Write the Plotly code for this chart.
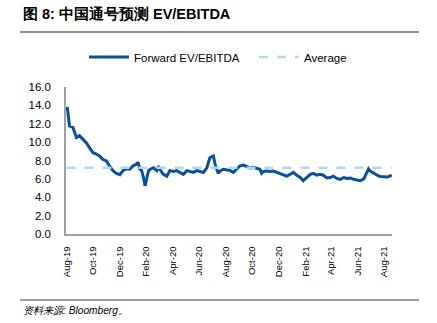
import plotly.graph_objects as go

dates = [
    "2019-08-01","2019-08-03","2019-08-08","2019-08-16","2019-08-24","2019-08-31","2019-09-08","2019-09-16",
    "2019-09-23","2019-10-01","2019-10-09","2019-10-16","2019-10-24","2019-11-01","2019-11-08","2019-11-16",
    "2019-11-24","2019-12-02","2019-12-09","2019-12-17","2019-12-25","2020-01-01","2020-01-09","2020-01-13",
    "2020-01-17","2020-01-21","2020-01-25","2020-01-29","2020-02-02","2020-02-06","2020-02-10","2020-02-17",
    "2020-02-25","2020-02-29","2020-03-03","2020-03-11","2020-03-19","2020-03-26","2020-04-03","2020-04-11",
    "2020-04-18","2020-04-26","2020-05-04","2020-05-11","2020-05-19","2020-05-27","2020-06-03","2020-06-11",
    "2020-06-19","2020-06-26","2020-07-04","2020-07-08","2020-07-15","2020-07-19","2020-07-27","2020-08-04",
    "2020-08-12","2020-08-19","2020-08-27","2020-09-03","2020-09-11","2020-09-19","2020-09-26","2020-10-04",
    "2020-10-12","2020-10-19","2020-10-23","2020-10-27","2020-11-04","2020-11-12","2020-11-19","2020-11-27",
    "2020-12-05","2020-12-12","2020-12-20","2020-12-28","2021-01-04","2021-01-12","2021-01-20","2021-01-27",
    "2021-02-04","2021-02-12","2021-02-19","2021-02-27","2021-03-06","2021-03-14","2021-03-22","2021-03-30",
    "2021-04-06","2021-04-14","2021-04-22","2021-04-30","2021-05-08","2021-05-15","2021-05-23","2021-05-31",
    "2021-06-07","2021-06-15","2021-06-23","2021-06-26","2021-06-30","2021-07-08","2021-07-16","2021-07-23",
    "2021-07-31","2021-08-08","2021-08-16","2021-08-18",
]
ev_ebitda = [
    13.4, 13.8, 11.75, 11.6, 10.5, 10.7, 10.3, 9.9,
    9.4, 8.85, 8.7, 8.5, 8.1, 7.95, 7.4, 6.9,
    6.6, 6.45, 6.9, 7.1, 7.05, 7.4, 7.6, 7.8,
    7.05, 6.9, 6.2, 5.24, 6.1, 6.9, 7.05, 7.2,
    6.9, 7.4, 7.05, 6.5, 6.3, 6.9, 6.8, 6.9,
    6.7, 6.5, 6.9, 6.8, 6.7, 6.9, 6.8, 6.7,
    7.2, 8.3, 8.5, 7.6, 6.6, 6.85, 7.05, 6.95,
    6.9, 6.7, 7.05, 7.4, 7.5, 7.3, 7.2, 7.25,
    7.15, 7.05, 6.6, 6.8, 6.85, 6.8, 6.85, 6.7,
    6.55, 6.5, 6.3, 6.5, 6.7, 6.4, 6.15, 5.8,
    6.1, 6.5, 6.6, 6.4, 6.5, 6.4, 6.1, 6.15,
    6.3, 6.05, 5.95, 6.15, 6.05, 6.1, 5.95, 5.85,
    5.8, 6.0, 6.9, 7.1, 6.85, 6.6, 6.4, 6.25,
    6.2, 6.2, 6.35, 6.45,
]
average_value = 7.2
tick_dates = ["2019-08-01","2019-10-01","2019-12-01","2020-02-01","2020-04-01","2020-06-01","2020-08-01",
              "2020-10-01","2020-12-01","2021-02-01","2021-04-01","2021-06-01","2021-08-01"]
tick_labels = ["Aug-19","Oct-19","Dec-19","Feb-20","Apr-20","Jun-20","Aug-20",
               "Oct-20","Dec-20","Feb-21","Apr-21","Jun-21","Aug-21"]
y_ticks = [0, 2, 4, 6, 8, 10, 12, 14, 16]

FONT = "Liberation Sans, Arial, sans-serif"
fig = go.Figure()
fig.add_trace(go.Scatter(x=dates, y=ev_ebitda, mode="lines", name="Forward EV/EBITDA",
                         line=dict(color="#0a4f97", width=3), legend="legend"))
fig.add_trace(go.Scatter(x=[dates[0], dates[-1]], y=[average_value, average_value], mode="lines",
                         name="Average", line=dict(color="#b0d8f5", width=2.5, dash="dash"),
                         legend="legend2"))

W, H = 437, 323
L, R, T, B = 66, 45, 87, 89
pw, ph = W - L - R, H - T - B
def px(x): return (x - L) / pw
def py(y): return (H - B - y) / ph

leg_common = dict(orientation="h", yanchor="middle", xanchor="left", font=dict(size=11.5, color="#000"),
                  bgcolor="rgba(0,0,0,0)", itemwidth=40)
fig.update_layout(
    width=W, height=H, margin=dict(l=L, r=R, t=T, b=B),
    paper_bgcolor="white", plot_bgcolor="white",
    font=dict(family=FONT, size=11, color="#000"),
    showlegend=True,
    legend=dict(x=px(84), y=py(57), **leg_common),
    legend2=dict(x=px(254), y=py(57), **leg_common),
    xaxis=dict(type="date", range=["2019-07-31", "2021-08-19"], tickvals=tick_dates, ticktext=tick_labels,
               tickangle=-90, showgrid=False, showline=True, linecolor="#a0a0a0", linewidth=1.5,
               ticks="", ticklabelstandoff=7, zeroline=False, tickfont=dict(size=9.5, color="#000")),
    yaxis=dict(range=[0, 16], tickvals=y_ticks, ticktext=[f"{v:.1f}" for v in y_ticks],
               showgrid=False, showline=True, linecolor="#a0a0a0", linewidth=1.5, ticks="",
               ticklabelstandoff=11, zeroline=False, tickfont=dict(size=11.5, color="#000")),
)
fig.add_annotation(text="<b>图 8: 中国通号预测 EV/EBITDA</b>", xref="paper", yref="paper",
                   x=px(21), y=py(14), xanchor="left", yanchor="middle", showarrow=False,
                   font=dict(size=14.5, family=FONT, color="#000"))
fig.add_annotation(text="<i>资料来源: Bloomberg。</i>", xref="paper", yref="paper",
                   x=px(21), y=py(310), xanchor="left", yanchor="middle", showarrow=False,
                   font=dict(size=10.2, family=FONT, color="#000"))
fig.add_shape(type="line", xref="paper", yref="paper", x0=px(20), x1=px(419), y0=py(32), y1=py(32),
              line=dict(color="#909090", width=2))
fig.add_shape(type="line", xref="paper", yref="paper", x0=px(20), x1=px(419), y0=py(300), y1=py(300),
              line=dict(color="#404040", width=1))
fig.write_html("out.html")
